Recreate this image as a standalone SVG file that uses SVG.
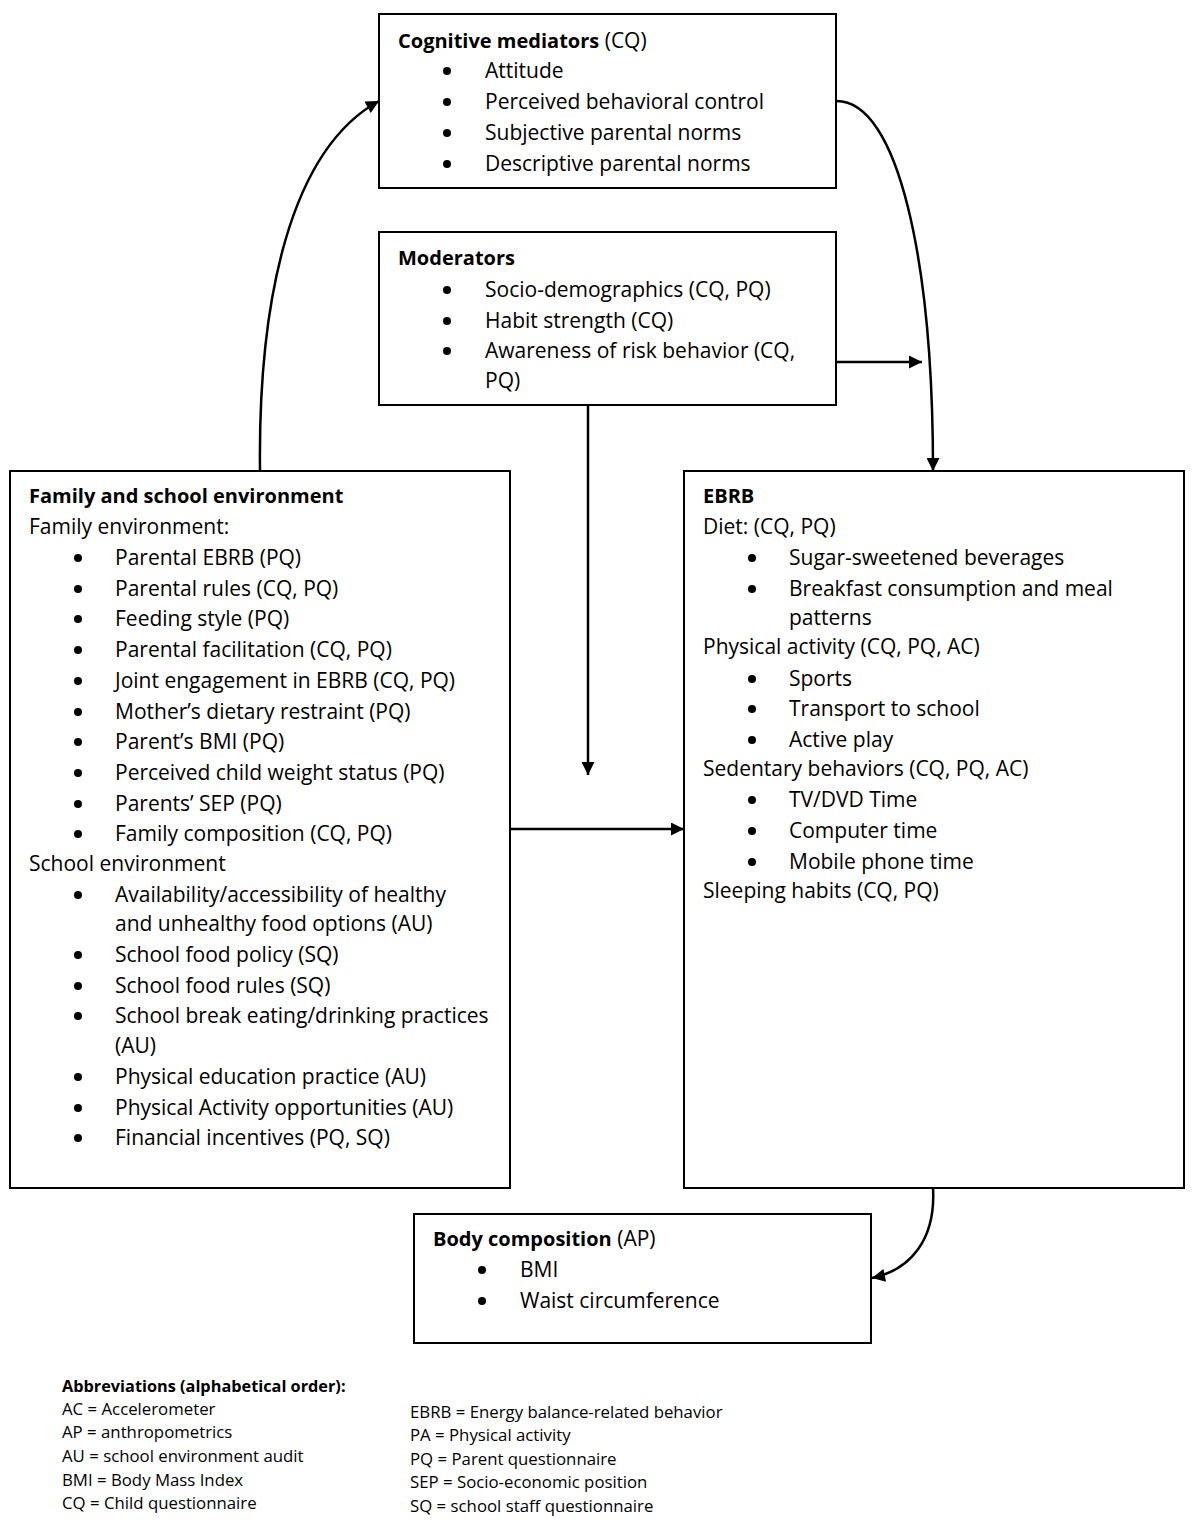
<svg xmlns="http://www.w3.org/2000/svg" width="1200" height="1529" viewBox="0 0 1200 1529">
<defs>
<style>
.box{fill:#fff;stroke:#000;stroke-width:2}
.t{font-family:"Open Sans","Liberation Sans",sans-serif;font-size:21px;fill:#000}
.b{font-weight:bold;font-size:20px}
.ab{font-family:"Open Sans","Liberation Sans",sans-serif;font-size:16.8px;fill:#000}
.ab .b{font-size:16.3px}
.c{fill:none;stroke:#000;stroke-width:2.5}
.dot{fill:#000}
</style>
<marker id="ah" viewBox="0 0 10 10" refX="10" refY="5" markerWidth="15" markerHeight="13" markerUnits="userSpaceOnUse" orient="auto">
<path d="M0,0 L10,5 L0,10 Z" fill="#000"/>
</marker>
</defs>
<rect width="1200" height="1529" fill="#fff"/>

<g id="connectors">
<path class="c" d="M260,471 C258,300 290,150 379,101" marker-end="url(#ah)"/>
<path class="c" d="M836,101 C898,100 933,260 933,471" marker-end="url(#ah)"/>
<path class="c" d="M836,362 L922,362" marker-end="url(#ah)"/>
<path class="c" d="M588,405 L588,775" marker-end="url(#ah)"/>
<path class="c" d="M510,829 L684,829" marker-end="url(#ah)"/>
<path class="c" d="M933,1188 C936,1240 910,1270 872,1278" marker-end="url(#ah)"/>
</g>

<g id="cognitive">
<rect class="box" x="379" y="14" width="457" height="174"/>
<text class="t" x="398" y="48"><tspan class="b">Cognitive mediators</tspan> (CQ)</text>
<g class="dot"><circle cx="447" cy="71" r="4"/><circle cx="447" cy="102" r="4"/><circle cx="447" cy="133" r="4"/><circle cx="447" cy="164" r="4"/></g>
<g class="t">
<text x="485" y="78">Attitude</text>
<text x="485" y="109">Perceived behavioral control</text>
<text x="485" y="140">Subjective parental norms</text>
<text x="485" y="171">Descriptive parental norms</text>
</g>
</g>

<g id="moderators">
<rect class="box" x="379" y="232" width="457" height="173"/>
<text class="t b" x="398" y="265">Moderators</text>
<g class="dot"><circle cx="447" cy="290" r="4"/><circle cx="447" cy="321" r="4"/><circle cx="447" cy="351" r="4"/></g>
<g class="t">
<text x="485" y="297">Socio-demographics (CQ, PQ)</text>
<text x="485" y="328">Habit strength (CQ)</text>
<text x="485" y="358">Awareness of risk behavior (CQ,</text>
<text x="485" y="388">PQ)</text>
</g>
</g>

<g id="family">
<rect class="box" x="10" y="471" width="500" height="717"/>
<text class="t b" x="29" y="503">Family and school environment</text>
<g class="dot">
<circle cx="78" cy="558" r="4"/><circle cx="78" cy="589" r="4"/><circle cx="78" cy="619" r="4"/><circle cx="78" cy="650" r="4"/><circle cx="78" cy="681" r="4"/><circle cx="78" cy="712" r="4"/><circle cx="78" cy="742" r="4"/><circle cx="78" cy="773" r="4"/><circle cx="78" cy="804" r="4"/><circle cx="78" cy="834" r="4"/>
<circle cx="78" cy="895" r="4"/><circle cx="78" cy="955" r="4"/><circle cx="78" cy="986" r="4"/><circle cx="78" cy="1016" r="4"/><circle cx="78" cy="1077" r="4"/><circle cx="78" cy="1108" r="4"/><circle cx="78" cy="1138" r="4"/>
</g>
<g class="t">
<text x="29" y="534">Family environment:</text>
<text x="115" y="565">Parental EBRB (PQ)</text>
<text x="115" y="596">Parental rules (CQ, PQ)</text>
<text x="115" y="626">Feeding style (PQ)</text>
<text x="115" y="657">Parental facilitation (CQ, PQ)</text>
<text x="115" y="688">Joint engagement in EBRB (CQ, PQ)</text>
<text x="115" y="719">Mother’s dietary restraint (PQ)</text>
<text x="115" y="749">Parent’s BMI (PQ)</text>
<text x="115" y="780">Perceived child weight status (PQ)</text>
<text x="115" y="811">Parents’ SEP (PQ)</text>
<text x="115" y="841">Family composition (CQ, PQ)</text>
<text x="29" y="871">School environment</text>
<text x="115" y="902">Availability/accessibility of healthy</text>
<text x="115" y="931">and unhealthy food options (AU)</text>
<text x="115" y="962">School food policy (SQ)</text>
<text x="115" y="993">School food rules (SQ)</text>
<text x="115" y="1023">School break eating/drinking practices</text>
<text x="115" y="1053">(AU)</text>
<text x="115" y="1084">Physical education practice (AU)</text>
<text x="115" y="1115">Physical Activity opportunities (AU)</text>
<text x="115" y="1145">Financial incentives (PQ, SQ)</text>
</g>
</g>

<g id="ebrb">
<rect class="box" x="684" y="471" width="500" height="717"/>
<text class="t b" x="703" y="503">EBRB</text>
<g class="dot">
<circle cx="752" cy="558" r="4"/><circle cx="752" cy="589" r="4"/><circle cx="752" cy="679" r="4"/><circle cx="752" cy="709" r="4"/><circle cx="752" cy="740" r="4"/><circle cx="752" cy="800" r="4"/><circle cx="752" cy="831" r="4"/><circle cx="752" cy="862" r="4"/>
</g>
<g class="t">
<text x="703" y="534">Diet: (CQ, PQ)</text>
<text x="789" y="565">Sugar-sweetened beverages</text>
<text x="789" y="596">Breakfast consumption and meal</text>
<text x="789" y="625">patterns</text>
<text x="703" y="654">Physical activity (CQ, PQ, AC)</text>
<text x="789" y="686">Sports</text>
<text x="789" y="716">Transport to school</text>
<text x="789" y="747">Active play</text>
<text x="703" y="776">Sedentary behaviors (CQ, PQ, AC)</text>
<text x="789" y="807">TV/DVD Time</text>
<text x="789" y="838">Computer time</text>
<text x="789" y="869">Mobile phone time</text>
<text x="703" y="898">Sleeping habits (CQ, PQ)</text>
</g>
</g>

<g id="body">
<rect class="box" x="414" y="1214" width="457" height="129"/>
<text class="t" x="433" y="1246"><tspan class="b">Body composition</tspan> (AP)</text>
<g class="dot"><circle cx="482" cy="1270" r="4"/><circle cx="482" cy="1301" r="4"/></g>
<g class="t">
<text x="520" y="1277">BMI</text>
<text x="520" y="1308">Waist circumference</text>
</g>
</g>

<g id="abbreviations" class="ab">
<text class="b" x="62" y="1392">Abbreviations (alphabetical order):</text>
<text x="62" y="1415">AC = Accelerometer</text>
<text x="62" y="1438">AP = anthropometrics</text>
<text x="62" y="1462">AU = school environment audit</text>
<text x="62" y="1486">BMI = Body Mass Index</text>
<text x="62" y="1509">CQ = Child questionnaire</text>
<text x="410" y="1418">EBRB = Energy balance-related behavior</text>
<text x="410" y="1441">PA = Physical activity</text>
<text x="410" y="1465">PQ = Parent questionnaire</text>
<text x="410" y="1488">SEP = Socio-economic position</text>
<text x="410" y="1512">SQ = school staff questionnaire</text>
</g>
</svg>
